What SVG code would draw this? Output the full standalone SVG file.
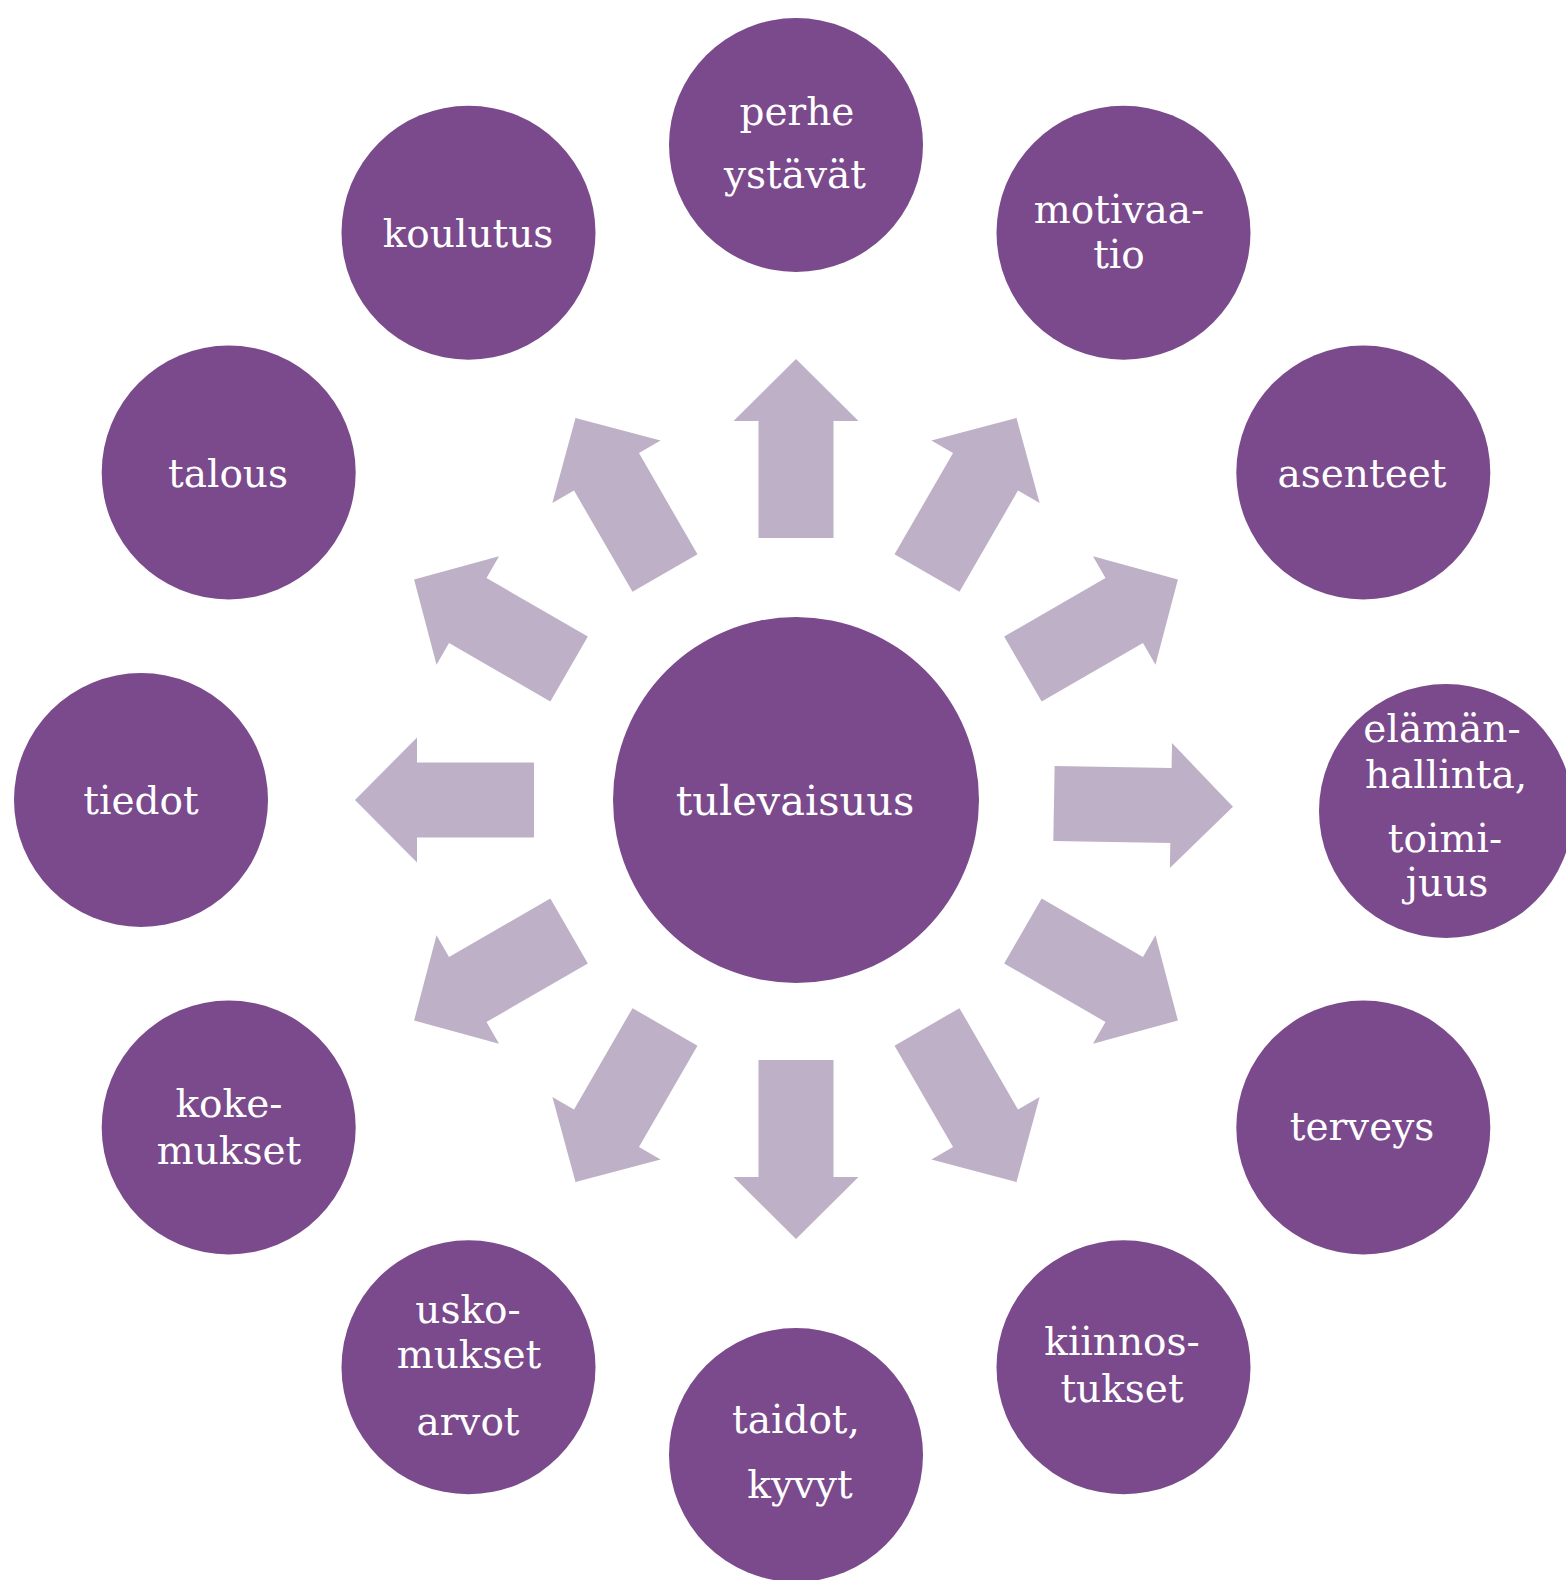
<svg xmlns="http://www.w3.org/2000/svg" xmlns:xlink="http://www.w3.org/1999/xlink" width="1566" height="1580" viewBox="0 0 1566 1580">
<style>
.node{fill:#7a4a8c}
.arr{fill:#beb1c7}
text{font-family:"DejaVu Serif","Liberation Serif",serif;fill:#ffffff;text-anchor:middle;font-size:39px}
.big{font-size:41.5px}
</style>
<defs>
<path id="arrow" d="M -37.5 -262 L -37.5 -379 L -62.5 -379 L 0 -441 L 62.5 -379 L 37.5 -379 L 37.5 -262 Z"/>
</defs>
<rect width="1566" height="1580" fill="#ffffff"/>
<g id="connectors" class="arr">
<use href="#arrow" transform="translate(796 800) rotate(0)"/>
<use href="#arrow" transform="translate(796 800) rotate(30)"/>
<use href="#arrow" transform="translate(796 800) rotate(60)"/>
<use href="#arrow" transform="translate(792 799) rotate(91)"/>
<use href="#arrow" transform="translate(796 800) rotate(120)"/>
<use href="#arrow" transform="translate(796 800) rotate(150)"/>
<use href="#arrow" transform="translate(796 798) rotate(180)"/>
<use href="#arrow" transform="translate(796 800) rotate(210)"/>
<use href="#arrow" transform="translate(796 800) rotate(240)"/>
<use href="#arrow" transform="translate(796 800) rotate(270)"/>
<use href="#arrow" transform="translate(796 800) rotate(300)"/>
<use href="#arrow" transform="translate(796 800) rotate(330)"/>
</g>
<g id="center"><circle class="node" cx="796" cy="800" r="183"/><text class="big" x="795" y="815">tulevaisuus</text></g>
<g id="perhe"><circle class="node" cx="796" cy="145" r="127"/><text x="797" y="125">perhe</text><text x="795" y="188">ystävät</text></g>
<g id="motivaatio"><circle class="node" cx="1123.5" cy="232.7" r="127"/><text x="1119" y="223">motivaa-</text><text x="1119" y="268">tio</text></g>
<g id="asenteet"><circle class="node" cx="1363.3" cy="472.5" r="127"/><text x="1362" y="487">asenteet</text></g>
<g id="elamanhallinta"><circle class="node" cx="1446" cy="811" r="127"/><text x="1442" y="742">elämän-</text><text x="1446" y="788">hallinta,</text><text x="1445" y="852">toimi-</text><text x="1447" y="896">juus</text></g>
<g id="terveys"><circle class="node" cx="1363.3" cy="1127.5" r="127"/><text x="1362" y="1140">terveys</text></g>
<g id="kiinnostukset"><circle class="node" cx="1123.5" cy="1367.3" r="127"/><text x="1122" y="1355">kiinnos-</text><text x="1122" y="1402">tukset</text></g>
<g id="taidot"><circle class="node" cx="796" cy="1455" r="127"/><text x="796" y="1433">taidot,</text><text x="800" y="1498">kyvyt</text></g>
<g id="uskomukset"><circle class="node" cx="468.5" cy="1367.3" r="127"/><text x="468" y="1323">usko-</text><text x="469" y="1368">mukset</text><text x="468" y="1435">arvot</text></g>
<g id="kokemukset"><circle class="node" cx="228.7" cy="1127.5" r="127"/><text x="229" y="1117">koke-</text><text x="229" y="1164">mukset</text></g>
<g id="tiedot"><circle class="node" cx="141" cy="800" r="127"/><text x="141" y="814">tiedot</text></g>
<g id="talous"><circle class="node" cx="228.7" cy="472.5" r="127"/><text x="228" y="487">talous</text></g>
<g id="koulutus"><circle class="node" cx="468.5" cy="232.7" r="127"/><text x="468" y="247">koulutus</text></g>
</svg>
